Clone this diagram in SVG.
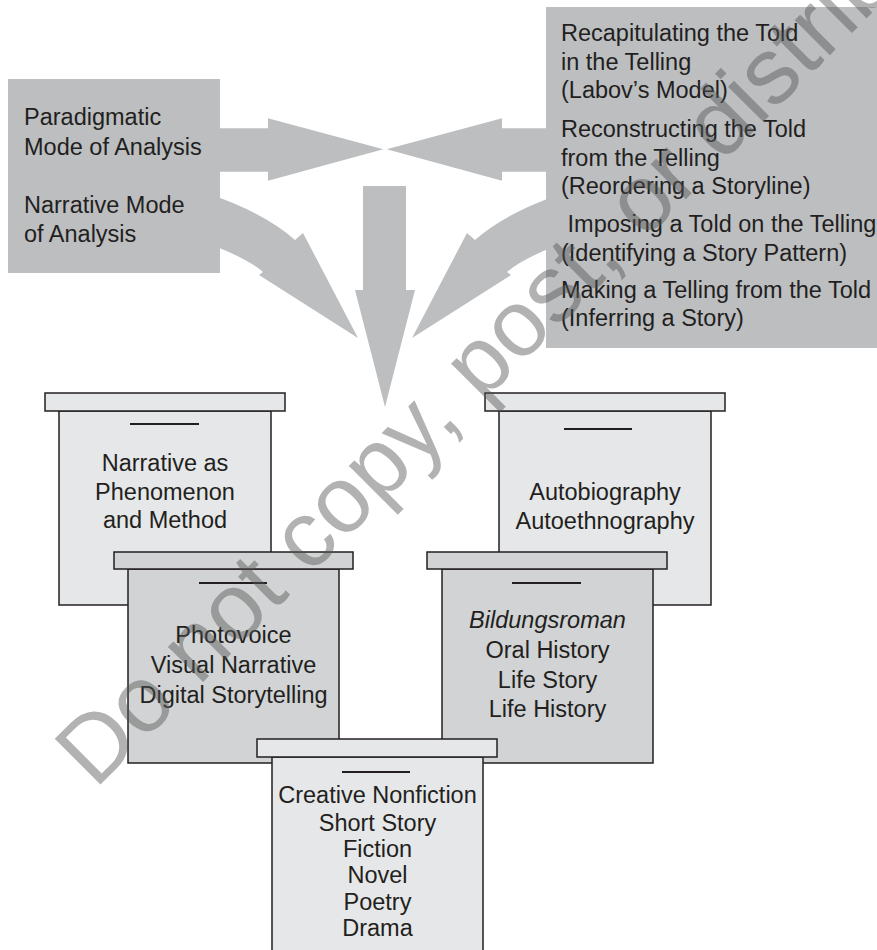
<svg xmlns="http://www.w3.org/2000/svg" width="877" height="950" viewBox="0 0 877 950">
<style>
.txt{font-family:"Liberation Sans",Arial,Helvetica,sans-serif;font-size:23.5px;fill:#231f20}
.c{text-anchor:middle}
.gray{fill:#bcbec0}
.light{fill:#e6e7e8;stroke:#231f20;stroke-width:1.5}
.dark{fill:#d1d3d4;stroke:#231f20;stroke-width:1.5}
.rule{stroke:#231f20;stroke-width:2}
.wm{font-family:"Liberation Sans",Arial,sans-serif;font-size:94px;fill:#555;fill-opacity:0.45}
</style>
<defs>
<path id="hArrow" d="M210,128.3 L268,128.3 L268,118.3 L383.3,149.3 L268,180.7 L268,171.7 L210,171.7 Z"/>
<path id="cArrow" d="M212,195 Q266,214 295,240 L303,233 L358,338 L259,275 L263,272 Q248,259 212,245 Z"/>
</defs>
<rect width="877" height="950" fill="#ffffff"/>
<g id="connectors" class="gray">
<use href="#hArrow"/>
<use href="#hArrow" transform="translate(770,0) scale(-1,1)"/>
<use href="#cArrow"/>
<use href="#cArrow" transform="translate(770,0) scale(-1,1)"/>
<path d="M363,186 L406,186 L406,290 L415,290 L385,407 L355,290 L363,290 Z"/>
</g>
<g id="modes">
<rect class="gray" x="8" y="79" width="212" height="194"/>
<text class="txt" x="24" y="125">Paradigmatic</text>
<text class="txt" x="24" y="155">Mode of Analysis</text>
<text class="txt" x="24" y="213">Narrative Mode</text>
<text class="txt" x="24" y="242">of Analysis</text>
</g>
<g id="approaches">
<rect class="gray" x="546" y="7" width="340" height="341"/>
<text class="txt" x="561" y="41">Recapitulating the Told</text>
<text class="txt" x="561" y="70">in the Telling</text>
<text class="txt" x="561" y="98">(Labov’s Model)</text>
<text class="txt" x="561" y="137">Reconstructing the Told</text>
<text class="txt" x="561" y="166">from the Telling</text>
<text class="txt" x="561" y="194">(Reordering a Storyline)</text>
<text class="txt" x="561" y="232" xml:space="preserve"> Imposing a Told on the Telling</text>
<text class="txt" x="561" y="261">(Identifying a Story Pattern)</text>
<text class="txt" x="561" y="298">Making a Telling from the Told</text>
<text class="txt" x="561" y="326">(Inferring a Story)</text>
</g>
<g id="box-phenomenon">
<rect class="light" x="59" y="411" width="212" height="194"/>
<rect class="light" x="45" y="393" width="240" height="18"/>
<line class="rule" x1="130" y1="424" x2="199" y2="424"/>
<text class="txt c" x="165" y="471">Narrative as</text>
<text class="txt c" x="165" y="500">Phenomenon</text>
<text class="txt c" x="165" y="528">and Method</text>
</g>
<g id="box-auto">
<rect class="light" x="499" y="411" width="212" height="194"/>
<rect class="light" x="485" y="393" width="240" height="18"/>
<line class="rule" x1="564" y1="429" x2="632" y2="429"/>
<text class="txt c" x="605" y="500">Autobiography</text>
<text class="txt c" x="605" y="529">Autoethnography</text>
</g>
<g id="box-photovoice">
<rect class="dark" x="128" y="569" width="211" height="194"/>
<rect class="dark" x="114" y="552" width="239" height="17"/>
<line class="rule" x1="199" y1="583" x2="267" y2="583"/>
<text class="txt c" x="233.5" y="643">Photovoice</text>
<text class="txt c" x="233.5" y="673">Visual Narrative</text>
<text class="txt c" x="233.5" y="703">Digital Storytelling</text>
</g>
<g id="box-bildungsroman">
<rect class="dark" x="442" y="569" width="211" height="194"/>
<rect class="dark" x="427" y="552" width="240" height="17"/>
<line class="rule" x1="512" y1="583" x2="581" y2="583"/>
<text class="txt c" x="547.5" y="628" font-style="italic">Bildungsroman</text>
<text class="txt c" x="547.5" y="658">Oral History</text>
<text class="txt c" x="547.5" y="688">Life Story</text>
<text class="txt c" x="547.5" y="717">Life History</text>
</g>
<g id="box-creative">
<rect class="light" x="272" y="757" width="211" height="200"/>
<rect class="light" x="257" y="739" width="240" height="18"/>
<line class="rule" x1="342" y1="772" x2="410" y2="772"/>
<text class="txt c" x="377.5" y="803">Creative Nonfiction</text>
<text class="txt c" x="377.5" y="831">Short Story</text>
<text class="txt c" x="377.5" y="857">Fiction</text>
<text class="txt c" x="377.5" y="883">Novel</text>
<text class="txt c" x="377.5" y="910">Poetry</text>
<text class="txt c" x="377.5" y="936">Drama</text>
</g>
<text class="wm" transform="translate(95,790) rotate(-45)">Do not copy, post, or distribute</text>
</svg>
